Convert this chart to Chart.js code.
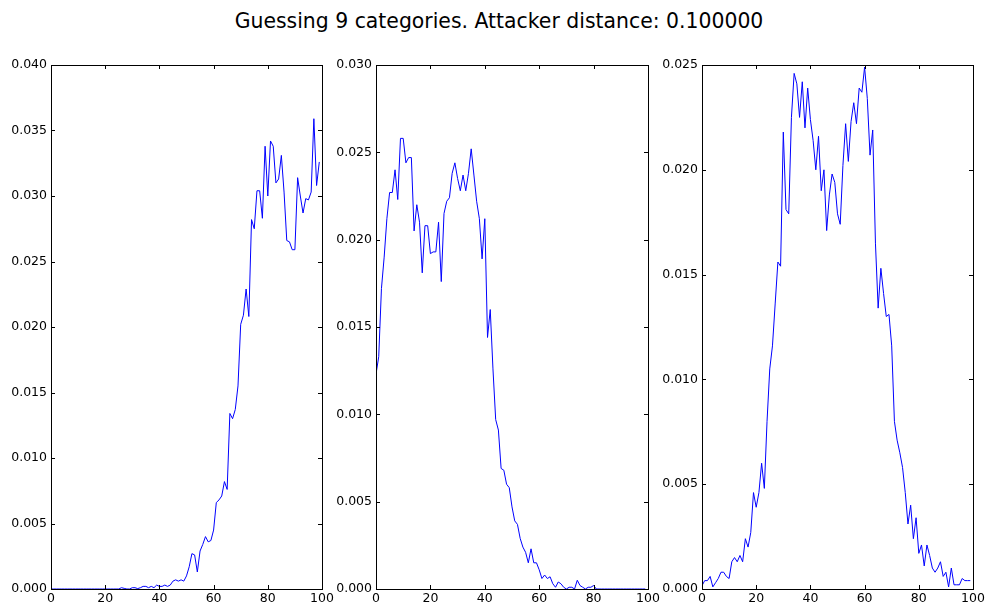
<!DOCTYPE html>
<html>
<head>
<meta charset="utf-8">
<script src="https://cdn.jsdelivr.net/npm/chart.js@4.4.0/dist/chart.umd.min.js"></script>
<style>
  body { margin: 0; background: #fff; }
  #wrap { position: relative; width: 990px; height: 610px; overflow: hidden; }
  #title { position: absolute; left: 4px; top: 9px; width: 990px; text-align: center;
           font-family: "DejaVu Sans", sans-serif; font-size: 20.4px; color: #000; }
  canvas { position: absolute; top: 0; }
</style>
</head>
<body>
<div id="wrap">
  <div id="title">Guessing 9 categories. Attacker distance: 0.100000</div>
  <canvas id="c1" width="340" height="610" style="left:0px"></canvas>
  <canvas id="c2" width="340" height="610" style="left:326px"></canvas>
  <canvas id="c3" width="338" height="610" style="left:652px"></canvas>
</div>
<script>
// sample index along x
var xs = Array.from({length: 100}, function(_, i) { return i; });
var xTicks = [0, 20, 40, 60, 80, 100];

// panel 1 (left)
var left = [
  0, 0, 0, 0, 0, 0, 0, 0, 0, 0,
  0, 0, 0, 0, 0, 0, 0, 0, 0, 0,
  0, 0, 0, 0, 0, 0, 0.0001, 0.00005, 0, 0,
  0.0001, 0.0001, 0.00003, 0.0001, 0.0002, 0.0002, 0.0001, 0.0002, 0.0001, 0.0003,
  0.0002, 0.0002, 0.0003, 0.0002, 0.0003, 0.0006, 0.0007, 0.0006, 0.0007, 0.0006,
  0.0010, 0.0017, 0.0027, 0.0026, 0.0013, 0.0029, 0.0034, 0.0040, 0.0036, 0.0037,
  0.0045, 0.0066, 0.0068, 0.0071, 0.0082, 0.0076, 0.0134, 0.0130, 0.0137, 0.0155,
  0.0202, 0.0209, 0.0229, 0.0208, 0.0282, 0.0275, 0.0304, 0.0304, 0.0283, 0.0338,
  0.0300, 0.0342, 0.0338, 0.0310, 0.0313, 0.0331, 0.0303, 0.0266, 0.0265, 0.0259,
  0.0259, 0.0314, 0.0300, 0.0287, 0.0298, 0.0297, 0.0303, 0.0359, 0.0308, 0.0326
];

// panel 2 (middle)
var middle = [
  0.0123, 0.0133, 0.0172, 0.0190, 0.0212, 0.0227, 0.0227, 0.0240, 0.0223, 0.0258,
  0.0258, 0.0244, 0.0247, 0.0247, 0.0205, 0.0220, 0.0210, 0.0181, 0.0208, 0.0208,
  0.0192, 0.0193, 0.0193, 0.0210, 0.0176, 0.0215, 0.0222, 0.0224, 0.0238, 0.0244,
  0.0235, 0.0228, 0.0237, 0.0228, 0.0238, 0.0252, 0.0237, 0.0222, 0.0212, 0.0189,
  0.0212, 0.0144, 0.0160, 0.0126, 0.0097, 0.0091, 0.0069, 0.0068, 0.0060, 0.0058,
  0.0047, 0.0039, 0.0037, 0.0029, 0.0024, 0.0021, 0.0015, 0.0023, 0.0015, 0.0015,
  0.0011, 0.0006, 0.0008, 0.0006, 0.0007, 0.0003, 0.0001, 0.0004, 0.0003, 0.0001,
  0, 0.0001, 0.0001, 0, 0.0005, 0.0002, 0.0001, 0, 0.0001, 0.0001,
  0.0002, 0, 0, 0, 0, 0, 0, 0, 0, 0,
  0, 0, 0, 0, 0, 0, 0, 0, 0, 0
];

// panel 3 (right)
var right = [
  0.00016, 0.0004, 0.0004, 0.0006, 0.0001, 0.0003, 0.0005, 0.0008, 0.0008, 0.0006,
  0.0005, 0.0013, 0.0015, 0.0013, 0.0016, 0.0013, 0.0024, 0.0020, 0.0027, 0.0046,
  0.0039, 0.0046, 0.0060, 0.0048, 0.0080, 0.0105, 0.0116, 0.0136, 0.0156, 0.0154,
  0.0218, 0.0181, 0.0179, 0.0225, 0.0246, 0.0241, 0.0225, 0.0242, 0.0220, 0.0239,
  0.0224, 0.0214, 0.0200, 0.0216, 0.0190, 0.0200, 0.0171, 0.0188, 0.0198, 0.0194,
  0.0179, 0.0174, 0.0202, 0.0222, 0.0204, 0.0223, 0.0232, 0.0222, 0.0239, 0.0237,
  0.0249, 0.0234, 0.0207, 0.0219, 0.0165, 0.0134, 0.0153, 0.0141, 0.0130, 0.0131,
  0.0116, 0.0080, 0.0071, 0.0065, 0.0058, 0.0046, 0.0031, 0.0040, 0.0024, 0.0034,
  0.0017, 0.0021, 0.0011, 0.0021, 0.0016, 0.0010, 0.0008, 0.0010, 0.0013, 0.0006,
  0.0008, 0.0001, 0.0010, 0.0002, 0.0002, 0.0002, 0.0005, 0.0004, 0.0004, 0.0004
];

// axes frame + inward ticks on all four sides (matplotlib look)
var frame = {
  id: 'frame',
  afterDraw: function(chart) {
    var ctx = chart.ctx, a = chart.chartArea;
    var sx = chart.scales.x, sy = chart.scales.y;
    ctx.save();
    ctx.strokeStyle = '#000';
    ctx.lineWidth = 1;
    ctx.beginPath();
    sx.ticks.forEach(function(t) {
      var px = Math.round(sx.getPixelForValue(t.value)) + 0.5;
      ctx.moveTo(px, a.bottom); ctx.lineTo(px, a.bottom - 4);
      ctx.moveTo(px, a.top); ctx.lineTo(px, a.top + 4);
    });
    sy.ticks.forEach(function(t) {
      var py = Math.round(sy.getPixelForValue(t.value)) + 0.5;
      ctx.moveTo(a.left, py); ctx.lineTo(a.left + 4, py);
      ctx.moveTo(a.right, py); ctx.lineTo(a.right - 4, py);
    });
    ctx.stroke();
    ctx.strokeRect(Math.round(a.left) + 0.5, Math.round(a.top) + 0.5,
                   Math.round(a.right - a.left), Math.round(a.bottom - a.top));
    ctx.restore();
  }
};

function makeChart(id, values, yMax, yAxisWidth, rightPad) {
  var pts = xs.map(function(x, i) { return {x: x, y: values[i]}; });
  return new Chart(document.getElementById(id), {
    type: 'line',
    data: {
      datasets: [{
        data: pts,
        borderColor: '#0000ff',
        borderWidth: 1,
        pointRadius: 0,
        tension: 0,
        fill: false
      }]
    },
    options: {
      responsive: false,
      animation: false,
      events: [],
      layout: { padding: { top: 65, right: rightPad, bottom: 0, left: 0 } },
      plugins: { legend: { display: false }, tooltip: { enabled: false } },
      scales: {
        x: {
          type: 'linear', min: 0, max: 100,
          afterBuildTicks: function(s) { s.ticks = xTicks.map(function(v) { return {value: v}; }); },
          afterFit: function(s) { s.height = 21; },
          grid: { display: false, drawTicks: false }, border: { display: false },
          ticks: { padding: 2, maxRotation: 0, autoSkip: false, color: '#000',
                   font: { family: 'DejaVu Sans', size: 12.5 } }
        },
        y: {
          min: 0, max: yMax,
          ticks: { stepSize: 0.005, padding: 4, color: '#000',
                   font: { family: 'DejaVu Sans', size: 12.5 },
                   callback: function(v) { return v.toFixed(3); } },
          afterFit: function(s) { s.width = yAxisWidth; },
          grid: { display: false, drawTicks: false }, border: { display: false }
        }
      }
    },
    plugins: [frame]
  });
}

makeChart('c1', left, 0.040, 51, 18);
makeChart('c2', middle, 0.030, 50, 18);
makeChart('c3', right, 0.025, 50, 17);
</script>
</body>
</html>
